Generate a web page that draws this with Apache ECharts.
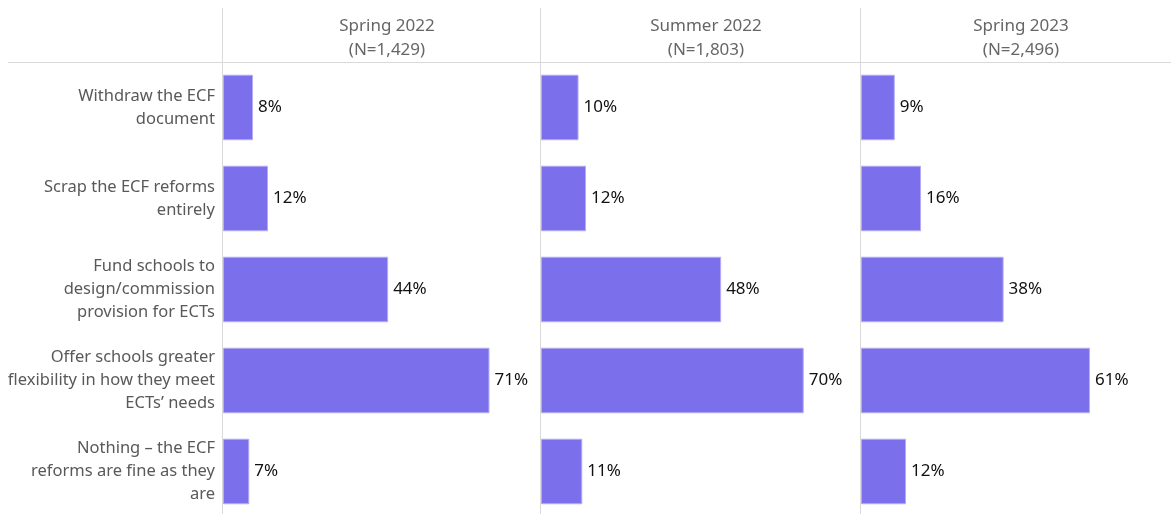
<!DOCTYPE html>
<html>
<head>
<meta charset="utf-8">
<script src="https://cdn.jsdelivr.net/npm/echarts@6/dist/echarts.min.js"></script>
<style>
  html, body { margin: 0; padding: 0; background: #fff; overflow: hidden; }
  #chart { width: 1171px; height: 520px; }
</style>
</head>
<body>
<div id="chart"></div>
<script>
const categories = [
  'Withdraw the ECF\ndocument',
  'Scrap the ECF reforms\nentirely',
  'Fund schools to\ndesign/commission\nprovision for ECTs',
  'Offer schools greater\nflexibility in how they meet\nECTs\u2019 needs',
  'Nothing \u2013 the ECF\nreforms are fine as they\nare'
]
const waves = ['Spring 2022', 'Summer 2022', 'Spring 2023']
const sampleSizes = ['N=1,429', 'N=1,803', 'N=2,496']
const spring2022 = [8, 12, 44, 71, 7]
const summer2022 = [10, 12, 48, 70, 11]
const spring2023 = [9, 16, 38, 61, 12]
const waveValues = [spring2022, summer2022, spring2023]

const FONT = 'Noto Sans'
const panelLeft = [223, 541, 861]
const panelWidth = 319
const lineColor = '#d9d9d9'

const chart = echarts.init(document.getElementById('chart'))

const grids = panelLeft.map(left => ({
  left: left,
  width: panelWidth,
  top: 62,
  height: 455,
  outerBoundsMode: 'none',
  containLabel: false
}))

const xAxes = panelLeft.map((_, i) => ({
  type: 'value',
  gridIndex: i,
  min: 0,
  max: 85,
  show: false
}))

const yAxes = panelLeft.map((_, i) => ({
  type: 'category',
  gridIndex: i,
  data: categories,
  inverse: true,
  axisLine: { show: false },
  axisTick: { show: false },
  splitLine: { show: false },
  axisLabel: {
    show: i === 0,
    color: '#595959',
    fontFamily: FONT,
    fontSize: 16.5,
    lineHeight: 23,
    align: 'right',
    margin: 8
  }
}))

const series = waveValues.map((vals, i) => ({
  type: 'bar',
  name: waves[i],
  xAxisIndex: i,
  yAxisIndex: i,
  data: vals,
  barCategoryGap: '28%',
  itemStyle: {
    color: '#7b6feb',
    borderColor: '#b3acf4',
    borderWidth: 1
  },
  label: {
    show: true,
    position: 'right',
    distance: 5,
    formatter: '{c}%',
    color: '#111',
    fontFamily: FONT,
    fontSize: 17
  },
  silent: true
}))

const titles = waves.map((w, i) => {
  const right = i < 2 ? panelLeft[i + 1] : 1171
  return {
    text: w + '\n(' + sampleSizes[i] + ')',
    left: (panelLeft[i] + right) / 2,
    top: 9,
    textAlign: 'center',
    textStyle: {
      color: '#666',
      fontFamily: FONT,
      fontSize: 17,
      fontWeight: 'normal',
      lineHeight: 24
    }
  }
})

// separator lines
const graphics = [
  {
    type: 'line',
    shape: { x1: 8, y1: 62.5, x2: 1171, y2: 62.5 },
    style: { stroke: lineColor, lineWidth: 1 },
    z: -1
  }
].concat(panelLeft.map(x => ({
  type: 'line',
  shape: { x1: x - 0.5, y1: 8, x2: x - 0.5, y2: 520 },
  style: { stroke: lineColor, lineWidth: 1 },
  z: -1
})))

chart.setOption({
  backgroundColor: '#fff',
  animation: false,
  title: titles,
  grid: grids,
  xAxis: xAxes,
  yAxis: yAxes,
  series: series,
  graphic: graphics
})
</script>
</body>
</html>
